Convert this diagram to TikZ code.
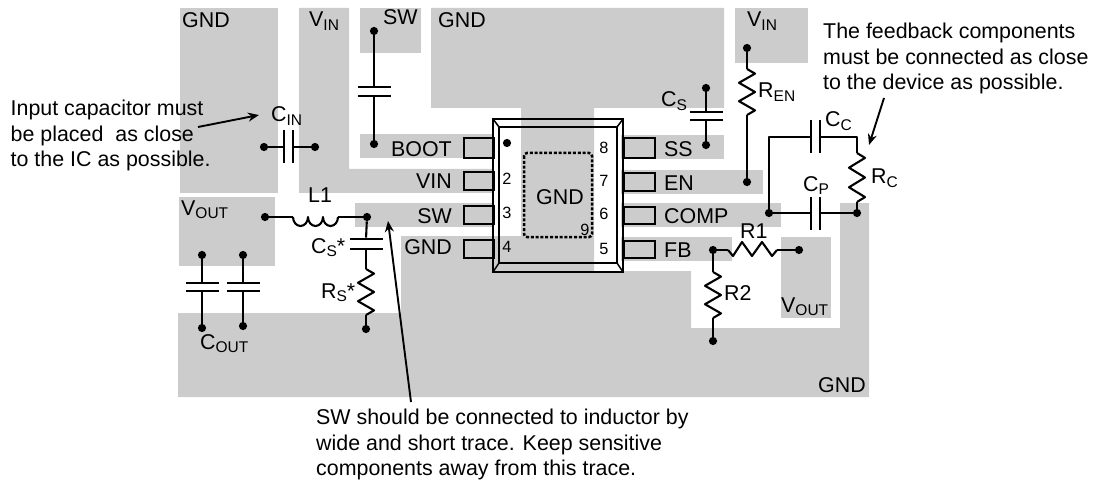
\documentclass[tikz,border=0pt]{standalone}
\usepackage{fontspec}
\setmainfont{Liberation Sans}
\usetikzlibrary{arrows.meta}
\newcommand\subt[2]{#1\raisebox{-3.5pt}{\fontsize{15.5}{16}\selectfont #2}}
\tikzset{
  pcb/.style={fill=black!20,draw=none},
  wire/.style={line width=2.1pt,line join=round},
  dotn/.style={circle,fill=black,inner sep=0pt,minimum size=8.2pt},
  hplate/.style={rectangle,fill=black,inner sep=0pt,minimum width=33pt,minimum height=2.4pt},
  vplate/.style={rectangle,fill=black,inner sep=0pt,minimum width=2.4pt,minimum height=33pt},
  lab/.style={anchor=base west,inner sep=0pt,font=\fontsize{21.4}{24}\selectfont},
  rlab/.style={anchor=base east,inner sep=0pt,font=\fontsize{21.4}{24}\selectfont},
  num/.style={anchor=center,inner sep=0pt,font=\fontsize{16.3}{18}\selectfont},
  note/.style={anchor=north west,inner sep=0pt,align=left,font=\fontsize{21.4}{25.5}\selectfont},
  pin/.style={draw=black,line width=2pt,fill=none},
  call/.style={line width=1.9pt,-{Stealth[length=11pt,width=9pt]}},
}
% vertical zigzag: x, y1, y2
\newcommand\resV[3]{\pgfmathsetmacro\hh{#3-#2}
  \draw[wire] (#1,#2) -- (#1+8,#2+.1*\hh) -- (#1-8,#2+.3*\hh) -- (#1+8,#2+.5*\hh) -- (#1-8,#2+.7*\hh) -- (#1+8,#2+.9*\hh) -- (#1,#3);}
\begin{document}
\begin{tikzpicture}[x=1pt,y=-1pt]
\useasboundingbox (0,0) rectangle (1094,481);
% copper
\fill[pcb] (180,8) rectangle (278,193);
\fill[pcb] (299,8) -- (349,8) -- (349,169) -- (493,169) -- (493,193) -- (299,193) -- cycle;
\fill[pcb] (360,8) rectangle (421,53);
\fill[pcb] (360,134) rectangle (493,158);
\fill[pcb] (355,203) rectangle (493,227);
\fill[pcb] (179,197) rectangle (275,266);
\fill[pcb] (735,8) rectangle (808,63);
\fill[pcb] (621,135) rectangle (724,159);
\fill[pcb] (621,170) rectangle (763,194);
\fill[pcb] (621,203) rectangle (781,227);
\fill[pcb] (621,237) rectangle (732,261);
\fill[pcb] (781,237) rectangle (831,318);
\fill[pcb] (401,236) -- (401,313) -- (178,313) -- (178,397) -- (869,397) -- (869,203) -- (840,203) -- (840,328) -- (691,328) -- (691,271) -- (594,271) -- (594,108) -- (724,108) -- (724,8) -- (431,8) -- (431,108) -- (521,108) -- (521,236) -- cycle;
% chip
\draw[line width=2pt,line join=miter] (493,119) rectangle (623,272);
\draw[line width=2pt] (499,127) rectangle (617,263);
\draw[line width=1.5pt] (493,119) -- (499,127) (623,119) -- (617,127) (493,272) -- (499,263) (623,272) -- (617,263);
\draw[line width=2.5pt,dash pattern=on 3pt off 1.8pt,rounded corners=3pt] (524,153) rectangle (592,237);
\node[dotn] (pin1dot) at (507,143) {};
% pins
\node[pin,anchor=north west,minimum width=30pt,minimum height=20pt,inner sep=0pt] (pl1) at (463,137) {};
\node[pin,anchor=north west,minimum width=30pt,minimum height=18pt,inner sep=0pt] (pl2) at (463,171) {};
\node[pin,anchor=north west,minimum width=30pt,minimum height=18pt,inner sep=0pt] (pl3) at (463,205) {};
\node[pin,anchor=north west,minimum width=30pt,minimum height=18pt,inner sep=0pt] (pl4) at (463,239) {};
\node[pin,anchor=north west,minimum width=31pt,minimum height=20pt,inner sep=0pt] (pr8) at (623,137) {};
\node[pin,anchor=north west,minimum width=31pt,minimum height=18pt,inner sep=0pt] (pr7) at (623,172) {};
\node[pin,anchor=north west,minimum width=31pt,minimum height=17pt,inner sep=0pt] (pr6) at (623,206) {};
\node[pin,anchor=north west,minimum width=31pt,minimum height=17pt,inner sep=0pt] (pr5) at (623,240) {};
% pin labels
\node[rlab] (lboot) at (452,157) {BOOT};
\node[rlab] (lvin) at (452,189) {VIN};
\node[rlab] (lsw) at (452,223) {SW};
\node[rlab] (lgnd) at (452,254) {GND};
\node[lab] (lss) at (664,157) {SS};
\node[lab] (len) at (664,190) {EN};
\node[lab] (lcomp) at (664,223) {COMP};
\node[lab] (lfb) at (664,257) {FB};
\node[num] (n2) at (507,179) {2};
\node[num] (n3) at (507,213) {3};
\node[num] (n4) at (507,247) {4};
\node[num] (n8) at (604,148) {8};
\node[num] (n7) at (604,181) {7};
\node[num] (n6) at (604,214) {6};
\node[num] (n5) at (604,249) {5};
\node[num] (n9) at (585,230) {9};
\node[lab,anchor=center] (cgnd) at (560,197) {GND};
% net labels
\node[lab] (g1) at (182,28) {GND};
\node[lab] (v1) at (309,27) {\subt{V}{IN}};
\node[lab] (s1) at (383,25) {SW};
\node[lab] (g2) at (438,28) {GND};
\node[lab] (v2) at (747,27) {\subt{V}{IN}};
\node[lab] (vo1) at (181,215) {\subt{V}{OUT}};
\node[lab] (vo2) at (781,312) {\subt{V}{OUT}};
\node[lab] (g3) at (818,392) {GND};
% boot cap
\node[dotn] (a1) at (374,31) {};
\node[dotn] (a2) at (374,144) {};
\node[hplate] (a1p) at (374,87) {};
\node[hplate] (a2p) at (374,96) {};
\draw[wire] (a1) -- (a1p);
\draw[wire] (a2) -- (a2p);
% CIN
\node[dotn] (b1) at (264,147) {};
\node[dotn] (b2) at (315,147) {};
\node[vplate] (b1p) at (284,147) {};
\node[vplate] (b2p) at (293,147) {};
\draw[wire] (b1) -- (b1p);
\draw[wire] (b2) -- (b2p);
\node[lab] (lcin) at (271,122) {\subt{C}{IN}};
% CS
\node[dotn] (c1) at (706,88) {};
\node[dotn] (c2) at (706,145) {};
\node[hplate] (c1p) at (706,112) {};
\node[hplate] (c2p) at (706,120) {};
\draw[wire] (c1) -- (c1p);
\draw[wire] (c2) -- (c2p);
\node[lab] (lcs) at (661,107) {\subt{C}{S}};
% REN
\node[dotn] (d1) at (747,48) {};
\node[dotn] (d2) at (747,182) {};
\coordinate (d1r) at (747,69);
\coordinate (d2r) at (747,115);
\draw[wire] (d1) -- (d1r);
\draw[wire] (d2) -- (d2r);
\resV{747}{69}{115}
\node[lab] (lren) at (758,98) {\subt{R}{EN}};
% comp network
\node[dotn] (e1) at (769,213) {};
\node[dotn] (e2) at (857,213) {};
\node[vplate] (e3) at (811,137) {};
\node[vplate] (e4) at (820,137) {};
\node[vplate] (e5) at (811,213) {};
\node[vplate] (e6) at (820,213) {};
\coordinate (rct) at (857,153);
\coordinate (rcb) at (857,202);
\draw[wire] (e1) |- (e3);
\draw[wire] (e4) -| (rct);
\draw[wire] (e1) -- (e5);
\draw[wire] (e6) -- (e2);
\draw[wire] (e2) -- (rcb);
\resV{857}{153}{202}
\node[lab] (lcc) at (825,127) {\subt{C}{C}};
\node[lab] (lcp) at (803,191) {\subt{C}{P}};
\node[lab] (lrc) at (871,184) {\subt{R}{C}};
% L1
\node[dotn] (f1) at (265,217) {};
\node[dotn] (f2) at (367,217) {};
\coordinate (l1a) at (293,217);
\coordinate (l1b) at (338,217);
\draw[wire] (f1) -- (l1a);
\draw[wire] (f2) -- (l1b);
\draw[wire] (l1a) arc[start angle=180,end angle=0,x radius=7.5,y radius=9] arc[start angle=180,end angle=0,x radius=7.5,y radius=9] arc[start angle=180,end angle=0,x radius=7.5,y radius=9];
\node[lab] (ll1) at (308,202) {L1};
% snubber
\node[hplate] (g1p) at (366,239) {};
\node[hplate] (g2p) at (366,249) {};
\node[dotn] (g4) at (366,329) {};
\coordinate (rst) at (366,269);
\coordinate (rsb) at (366,315);
\draw[wire] (f2) -- (g1p);
\draw[wire] (g2p) -- (rst);
\draw[wire] (g4) -- (rsb);
\resV{366}{269}{315}
\node[lab] (lcss) at (311,253) {\subt{C}{S}*};
\node[lab] (lrss) at (321,298) {\subt{R}{S}*};
% COUT
\node[dotn] (h1) at (202,255) {};
\node[dotn] (h2) at (243,255) {};
\node[dotn] (h3) at (202,328) {};
\node[dotn] (h4) at (243,326) {};
\node[hplate] (h1p) at (202,283) {};
\node[hplate] (h2p) at (243,283) {};
\node[hplate] (h3p) at (202,291) {};
\node[hplate] (h4p) at (243,291) {};
\draw[wire] (h1) -- (h1p);
\draw[wire] (h2) -- (h2p);
\draw[wire] (h3) -- (h3p);
\draw[wire] (h4) -- (h4p);
\node[lab] (lcout) at (200,349) {\subt{C}{OUT}};
% R1 R2
\node[dotn] (i1) at (713,250) {};
\node[dotn] (i2) at (799,250) {};
\node[dotn] (i3) at (713,341) {};
\coordinate (r1a) at (728,250);
\coordinate (r1b) at (777,250);
\coordinate (r2a) at (713,272);
\coordinate (r2b) at (713,318);
\draw[wire] (i1) -- (r1a);
\draw[wire] (i2) -- (r1b);
\draw[wire] (r1a) -- (733,256) -- (742,242) -- (752,256) -- (762,242) -- (772,256) -- (r1b);
\draw[wire] (i1) -- (r2a);
\draw[wire] (i3) -- (r2b);
\resV{713}{272}{318}
\node[lab] (lr1) at (740,238) {R1};
\node[lab] (lr2) at (724,300) {R2};
% notes
\node[note] (t1) at (10.5,100.2) {Input capacitor must\\be placed\ \ as close\\to the IC as possible.};
\node[note] (t2) at (823,23) {The feedback components\\must be connected as close\\to the device as possible.};
\node[note] (t3) at (316,409) {SW should be connected to inductor by\\wide and short trace. Keep sensitive\\components away from this trace.};
\coordinate (at1) at (198,127);
\coordinate (ah1) at (259,115);
\coordinate (at2) at (884,98);
\coordinate (ah2) at (869,145);
\coordinate (at3) at (411,402);
\coordinate (ah3) at (388,221);
\draw[call] (at1) -- (ah1);
\draw[call] (at2) -- (ah2);
\draw[call] (at3) -- (ah3);
\end{tikzpicture}
\end{document}
